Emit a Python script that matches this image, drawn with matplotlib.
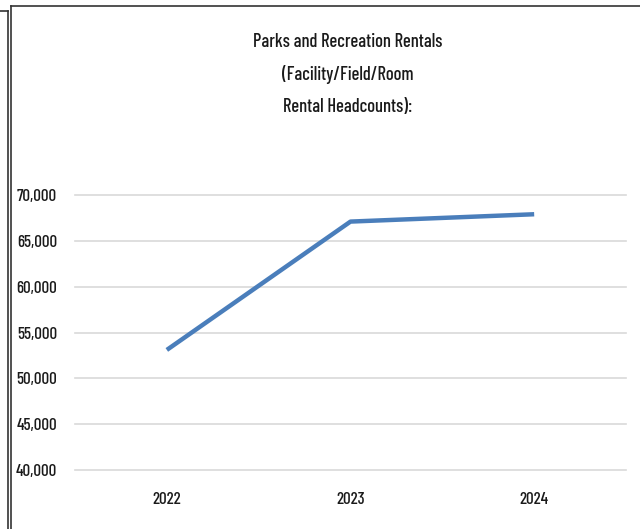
import matplotlib
matplotlib.use("Agg")
import matplotlib.pyplot as plt
from matplotlib.lines import Line2D
from matplotlib.ticker import FuncFormatter

years = ["2022", "2023", "2024"]
headcounts = [53100, 67100, 67900]
y_ticks = [40000, 45000, 50000, 55000, 60000, 65000, 70000]
title_lines = ["Parks and Recreation Rentals", "(Facility/Field/Room", "Rental Headcounts):"]

FAMILY = ['Barlow Condensed', 'DejaVu Sans']
plt.rcParams['font.family'] = FAMILY
plt.rcParams['font.weight'] = 'medium'

W, H = 640, 529
fig = plt.figure(figsize=(W / 100, H / 100), dpi=100)
fig.patch.set_facecolor("white")
renderer = fig.canvas.get_renderer()

def fit_size(s, target_px):
    t = fig.text(0, 0, s, fontsize=10)
    w = t.get_window_extent(renderer).width
    t.remove()
    return 10 * target_px / w

tick_fs = fit_size("70,000", 40)
title_fs = fit_size(title_lines[0], 189)

ax = fig.add_axes([75 / W, 1 - 470 / H, (626 - 75) / W, (470 - 195) / H])
x = list(range(len(years)))
ax.plot(x, headcounts, color="#4a7ebb", linewidth=3.2, solid_capstyle="butt", zorder=3)
ax.set_xlim(-0.5, len(years) - 0.5)
ax.set_ylim(y_ticks[0], y_ticks[-1])
ax.set_yticks(y_ticks)
ax.yaxis.set_major_formatter(FuncFormatter(lambda v, p: f"{int(v):,}"))
ax.set_xticks(x)
ax.set_xticklabels(years)
for s in ax.spines.values():
    s.set_visible(False)
ax.grid(axis="y", color="#d9d9d9", linewidth=1.2, zorder=0)
for gl in ax.get_ygridlines():
    gl.set_clip_on(False)
ax.tick_params(axis="both", length=0, labelsize=tick_fs, colors="#1a1a1a")
ax.tick_params(axis="y", pad=13)
ax.tick_params(axis="x", pad=16)

ys = [42, 74, 107]
for t, yy in zip(title_lines, ys):
    fig.text(348 / W, 1 - yy / H, t, ha="center", va="center", fontsize=title_fs, color="#1a1a1a")

# cell borders
def hline(x0, x1, y, lw=1.2):
    fig.add_artist(Line2D([x0 / W, x1 / W], [1 - y / H, 1 - y / H], color="#333333", linewidth=lw))

def vline(x, y0, y1, lw=1.2):
    fig.add_artist(Line2D([x / W, x / W], [1 - y0 / H, 1 - y1 / H], color="#333333", linewidth=lw))

hline(0, 7.5, 10.5)
vline(7.5, 10.5, 529)
hline(10.5, 640, 6)
vline(10.5, 6, 529)

fig.savefig("out.png", dpi=100, facecolor="white")
